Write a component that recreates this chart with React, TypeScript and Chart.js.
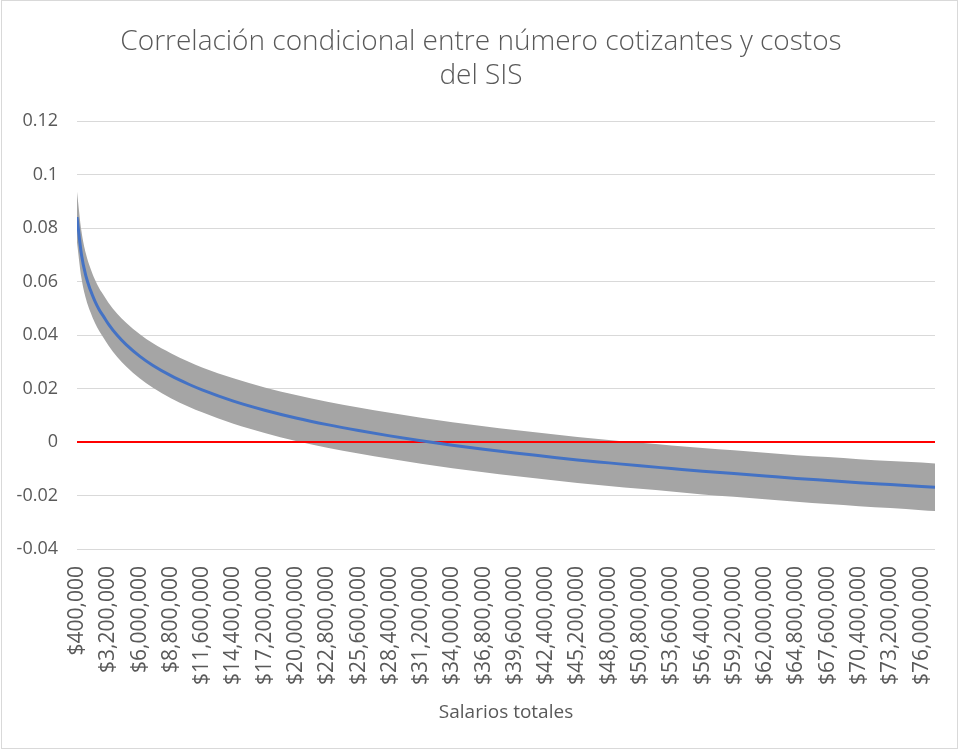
import React, { useEffect, useRef } from "react";
import { Chart, registerables } from "chart.js";

Chart.register(...registerables);

// Salarios totales (x values, in $)
const salaries: number[] = [
  400000, 800000, 1200000, 1600000, 2000000, 2400000, 2800000, 3200000,
  4000000, 4800000, 6000000, 7200000, 8800000, 10400000, 11600000,
  14400000, 17200000, 20000000, 22800000, 25600000, 28400000, 31200000,
  34000000, 36800000, 39600000, 42400000, 45200000, 48000000, 50800000,
  53600000, 56400000, 59200000, 62000000, 64800000, 67600000, 70400000,
  73200000, 76000000, 77200000,
];

// Correlación condicional (estimate)
const corrMean: number[] = [
  0.0841, 0.07, 0.062, 0.0568, 0.0527, 0.0494, 0.0468, 0.0442,
  0.0399, 0.0364, 0.0321, 0.0286, 0.0248, 0.0216, 0.0195,
  0.0153, 0.0119, 0.009, 0.0065, 0.0043, 0.0023, 0.0005,
  -0.0012, -0.0027, -0.0041, -0.0054, -0.0067, -0.0078, -0.0089,
  -0.0099, -0.0109, -0.0118, -0.0127, -0.0136, -0.0144, -0.0152,
  -0.0159, -0.0166, -0.0169,
];

// Upper bound of the interval
const corrUpper: number[] = [
  0.0936, 0.0788, 0.0704, 0.065, 0.0608, 0.0574, 0.0548, 0.0522,
  0.048, 0.0446, 0.0404, 0.0369, 0.0332, 0.03, 0.0279,
  0.0238, 0.0204, 0.0176, 0.0151, 0.0129, 0.0109, 0.0091,
  0.0074, 0.0059, 0.0045, 0.0032, 0.0019, 0.0008, -0.0003,
  -0.0013, -0.0022, -0.0031, -0.004, -0.0049, -0.0056, -0.0064,
  -0.0071, -0.0077, -0.008,
];

// Lower bound of the interval
const corrLower: number[] = [
  0.0746, 0.0612, 0.0536, 0.0486, 0.0446, 0.0414, 0.0388, 0.0362,
  0.0318, 0.0282, 0.0238, 0.0203, 0.0164, 0.0132, 0.0111,
  0.0068, 0.0034, 0.0004, -0.0021, -0.0043, -0.0063, -0.0081,
  -0.0098, -0.0113, -0.0127, -0.014, -0.0153, -0.0164, -0.0175,
  -0.0185, -0.0196, -0.0205, -0.0214, -0.0223, -0.0232, -0.024,
  -0.0247, -0.0255, -0.0258,
];

// x-axis tick positions and labels
const xTickValues: number[] = [
  400000, 3200000, 6000000, 8800000, 11600000, 14400000, 17200000,
  20000000, 22800000, 25600000, 28400000, 31200000, 34000000, 36800000,
  39600000, 42400000, 45200000, 48000000, 50800000, 53600000, 56400000,
  59200000, 62000000, 64800000, 67600000, 70400000, 73200000, 76000000,
];
const xTickLabels: string[] = [
  "$400,000", "$3,200,000", "$6,000,000", "$8,800,000", "$11,600,000",
  "$14,400,000", "$17,200,000", "$20,000,000", "$22,800,000", "$25,600,000",
  "$28,400,000", "$31,200,000", "$34,000,000", "$36,800,000", "$39,600,000",
  "$42,400,000", "$45,200,000", "$48,000,000", "$50,800,000", "$53,600,000",
  "$56,400,000", "$59,200,000", "$62,000,000", "$64,800,000", "$67,600,000",
  "$70,400,000", "$73,200,000", "$76,000,000",
];

const titleLines: string[] = [
  "Correlación condicional entre número cotizantes y costos",
  "del SIS",
];
const xAxisTitle = "Salarios totales";

const FONT = "'Open Sans', sans-serif";
const TEXT = "#595959";

export default function App() {
  const ref = useRef<HTMLCanvasElement | null>(null);

  useEffect(() => {
    if (!ref.current) return;
    const pts = (ys: number[]) => salaries.map((x, i) => ({ x, y: ys[i] }));
    const chart = new Chart(ref.current, {
      type: "line",
      data: {
        datasets: [
          {
            label: "Correlación",
            data: pts(corrMean),
            borderColor: "#4472c4",
            borderWidth: 3,
            pointRadius: 0,
            cubicInterpolationMode: "monotone",
            fill: false,
          },
          {
            label: "Cero",
            data: [
              { x: salaries[0], y: 0 },
              { x: salaries[salaries.length - 1], y: 0 },
            ],
            borderColor: "#ff0000",
            borderWidth: 2,
            pointRadius: 0,
            fill: false,
          },
          {
            label: "Superior",
            data: pts(corrUpper),
            borderColor: "rgba(0,0,0,0)",
            borderWidth: 0,
            pointRadius: 0,
            cubicInterpolationMode: "monotone",
            backgroundColor: "#a5a5a5",
            fill: "+1",
          },
          {
            label: "Inferior",
            data: pts(corrLower),
            borderColor: "rgba(0,0,0,0)",
            borderWidth: 0,
            pointRadius: 0,
            cubicInterpolationMode: "monotone",
            fill: false,
          },
        ],
      },
      options: {
        responsive: false,
        animation: false,
        devicePixelRatio: 1,
        layout: { padding: { left: 16, right: 13, top: 0, bottom: 25 } },
        plugins: {
          legend: { display: false },
          tooltip: { enabled: false },
          title: {
            display: true,
            text: titleLines,
            color: TEXT,
            font: { family: FONT, size: 28, weight: 300, lineHeight: 1.18 },
            padding: { top: 26, bottom: 29 },
          },
        },
        scales: {
          x: {
            type: "linear",
            min: salaries[0],
            max: salaries[salaries.length - 1],
            afterBuildTicks: (scale: any) => {
              scale.ticks = xTickValues.map((v) => ({ value: v }));
            },
            afterFit: (scale: any) => {
              scale.height = 176;
              scale.paddingLeft = 0;
              scale.paddingRight = 0;
            },
            grid: { display: false, drawTicks: false },
            border: { display: false },
            ticks: {
              autoSkip: false,
              maxRotation: 90,
              minRotation: 90,
              padding: 17,
              color: TEXT,
              font: { family: FONT, size: 21 },
              callback: (_v: any, i: number) => xTickLabels[i],
            },
            title: {
              display: true,
              text: xAxisTitle,
              color: TEXT,
              font: { family: FONT, size: 19 },
              padding: { top: 0, bottom: 1 },
            },
          },
          y: {
            min: -0.04,
            max: 0.12,
            afterFit: (scale: any) => {
              scale.width = 61;
            },
            grid: { color: "#d9d9d9", lineWidth: 1, drawTicks: false },
            border: { display: false },
            ticks: {
              stepSize: 0.02,
              padding: 19,
              color: TEXT,
              font: { family: FONT, size: 18 },
              callback: (v: any) => String(Number(Number(v).toFixed(2))),
            },
          },
          yRightSpacer: {
            position: "right",
            display: true,
            grid: { display: false, drawTicks: false },
            border: { display: false },
            ticks: { display: false },
            afterFit: (scale: any) => {
              scale.width = 11;
            },
          },
        },
      },
    } as any);
    return () => chart.destroy();
  }, []);

  return (
    <div style={{ position: "fixed", left: 0, top: 0, width: 959, height: 750, background: "#fff" }}>
      <canvas ref={ref} width={959} height={750} style={{ position: "absolute", left: 0, top: 0 }} />
      <div
        style={{
          position: "absolute",
          left: 1,
          top: 0,
          width: 955,
          height: 747,
          border: "1px solid #d9d9d9",
          pointerEvents: "none",
        }}
      />
    </div>
  );
}
